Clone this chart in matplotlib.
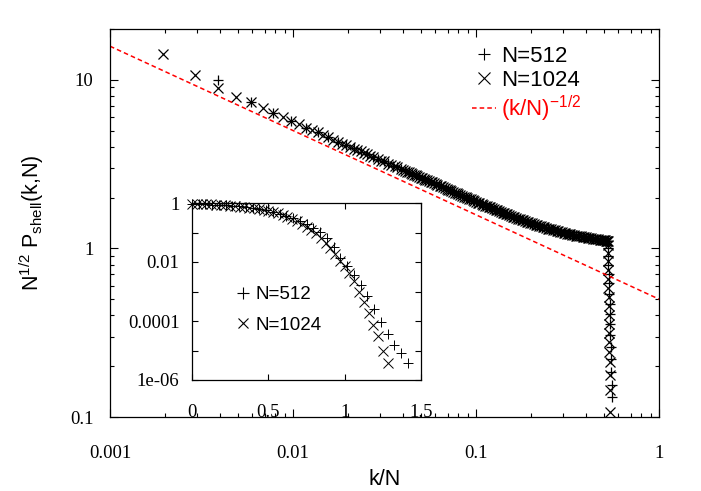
import numpy as np
import matplotlib
matplotlib.use("Agg")
import matplotlib.pyplot as plt
from matplotlib.lines import Line2D
from matplotlib.ticker import FixedLocator, FixedFormatter, NullFormatter, LogLocator

plt.rcParams['font.family'] = ['Liberation Sans', 'DejaVu Sans']
plt.rcParams['mathtext.default'] = 'regular'

# ---------------- data (main panel) ----------------
N_512 = 512
N_1024 = 1024

k_1024 = [2, 3, 4, 5, 6, 7, 8, 9, 10, 11, 12, 13, 14, 15, 16, 17, 18, 19, 20,
          21, 22, 23, 24, 25, 26, 27, 28, 30, 31, 32, 34, 35, 37, 38,
          40, 41, 42, 43, 44, 45, 46, 47, 48, 49, 50, 51, 52, 53, 54, 55,
          57, 58, 59, 60, 62, 63, 65, 66, 68, 69,
          71, 72, 74, 75, 77, 79, 81, 82, 84, 86,
          88, 90, 92, 94, 96, 98, 100, 102, 105, 107,
          110, 112, 115, 117, 120, 122, 125, 128, 131, 134,
          137, 140, 143, 146, 149, 152, 156, 159, 163, 166,
          170, 174, 178, 182, 186, 190, 194, 198, 203, 207,
          212, 217, 222, 227, 232, 237, 242, 247, 253, 258,
          264, 270, 276, 282, 288, 294, 301, 308, 315, 322,
          329, 336, 343, 351, 359, 367, 375, 383, 392, 400,
          409, 418, 427, 436, 446, 456, 466, 476, 487, 496,
          505, 512, 520, 525, 530, 533, 536,
          537, 538, 539, 540, 541, 542, 543, 544, 545, 546, 547, 548, 549, 550, 551, 552, 553]
y_1024 = [14.3, 10.7, 8.97, 7.9, 7.35, 6.8, 6.34, 6.0, 5.71, 5.45, 5.21, 5.04, 4.89, 4.69, 4.55, 4.42, 4.30, 4.18, 4.08,
          4.00, 3.91, 3.82, 3.76, 3.68, 3.61, 3.54, 3.48, 3.37, 3.32, 3.28, 3.18, 3.14, 3.06, 3.02,
          2.95, 2.92, 2.88, 2.85, 2.82, 2.79, 2.76, 2.73, 2.71, 2.68, 2.66, 2.63, 2.61, 2.58, 2.56, 2.54,
          2.50, 2.48, 2.46, 2.44, 2.40, 2.38, 2.35, 2.33, 2.30, 2.28,
          2.25, 2.23, 2.21, 2.19, 2.17, 2.14, 2.12, 2.10, 2.08, 2.05,
          2.03, 2.01, 1.99, 1.97, 1.95, 1.93, 1.91, 1.89, 1.87, 1.85,
          1.83, 1.81, 1.79, 1.78, 1.76, 1.75, 1.73, 1.71, 1.70, 1.68,
          1.66, 1.65, 1.63, 1.62, 1.61, 1.59, 1.57, 1.56, 1.54, 1.53,
          1.52, 1.50, 1.49, 1.48, 1.47, 1.455, 1.44, 1.43, 1.41, 1.405,
          1.40, 1.385, 1.37, 1.36, 1.35, 1.345, 1.34, 1.325, 1.31, 1.305,
          1.30, 1.29, 1.28, 1.27, 1.26, 1.25, 1.245, 1.24, 1.23, 1.225,
          1.217, 1.21, 1.205, 1.197, 1.19, 1.187, 1.185, 1.18, 1.176, 1.17,
          1.163, 1.158, 1.153, 1.147, 1.14, 1.137, 1.134, 1.131, 1.128, 1.124,
          1.12, 1.118, 1.115, 1.112, 1.11, 1.105, 1.10,
          1.05, 0.94, 0.84, 0.745, 0.66, 0.58, 0.515, 0.456, 0.403, 0.357, 0.316, 0.28, 0.243, 0.213, 0.178, 0.145, 0.107]

k_512 = [2, 3, 4, 5, 6, 7, 8, 9, 10, 11, 12, 13, 14, 15, 16, 17, 18, 19,
         20, 21, 22, 23, 24, 25, 26, 27, 28, 29,
         30, 31, 32, 33, 34, 35, 36, 37, 38, 39,
         40, 41, 42, 43, 44, 45, 46, 47, 48, 49,
         50, 51, 52, 53, 54, 55, 56, 57, 58, 59,
         60, 61, 62, 63, 64, 65, 66, 67, 68, 69,
         70, 71, 72, 73, 74, 75, 76, 78, 80, 82,
         83, 85, 87, 89, 91, 93, 95, 97, 99, 101,
         104, 106, 108, 110, 113, 115, 118, 121, 124, 126,
         129, 132, 135, 138, 141, 144, 147, 150, 154, 157,
         161, 164, 168, 172, 176, 180, 184, 188, 192, 196,
         200, 205, 210, 214, 219, 224, 229, 234, 239, 244,
         250, 254, 258, 260, 262, 264, 265, 266, 267, 268,
         269, 270, 271, 272, 273, 274, 275, 276, 277, 278, 279, 280, 281, 282, 283]
y_512 = [10.0, 7.4, 6.34, 5.71, 5.21, 4.89, 4.55, 4.30, 4.10, 3.92, 3.75, 3.61, 3.49, 3.38, 3.28, 3.19, 3.10, 3.03,
         2.95, 2.89, 2.82, 2.76, 2.71, 2.66, 2.61, 2.56, 2.52, 2.48,
         2.44, 2.40, 2.36, 2.33, 2.30, 2.27, 2.24, 2.21, 2.18, 2.16,
         2.13, 2.10, 2.08, 2.06, 2.03, 2.01, 1.99, 1.97, 1.95, 1.93,
         1.915, 1.90, 1.88, 1.865, 1.85, 1.835, 1.82, 1.80, 1.785, 1.77,
         1.76, 1.75, 1.735, 1.72, 1.71, 1.70, 1.69, 1.68, 1.67, 1.66,
         1.65, 1.64, 1.63, 1.62, 1.61, 1.60, 1.59, 1.57, 1.555, 1.54,
         1.53, 1.515, 1.50, 1.49, 1.48, 1.465, 1.45, 1.44, 1.43, 1.415,
         1.40, 1.39, 1.38, 1.37, 1.36, 1.35, 1.34, 1.33, 1.32, 1.313,
         1.305, 1.295, 1.285, 1.276, 1.267, 1.26, 1.255, 1.248, 1.24, 1.233,
         1.225, 1.22, 1.213, 1.205, 1.198, 1.193, 1.188, 1.181, 1.175, 1.172,
         1.168, 1.162, 1.155, 1.15, 1.146, 1.141, 1.136, 1.131, 1.127, 1.122,
         1.116, 1.114, 1.112, 1.111, 1.11, 1.107, 1.105, 1.103, 1.101, 1.10,
         1.0, 0.90, 0.80, 0.70, 0.62, 0.54, 0.47, 0.41, 0.355, 0.305, 0.26, 0.22, 0.185, 0.155, 0.131]

line_x = [0.001, 1.0]
line_amp = 0.5

# ---------------- data (inset) ----------------
inset_y_1024 = [0.933, 0.923, 0.912, 0.902, 0.891, 0.871, 0.851, 0.832, 0.813, 0.794, 0.759, 0.724, 0.692, 0.661,
                0.617, 0.575, 0.537, 0.490, 0.447, 0.398, 0.347, 0.295, 0.245, 0.200, 0.158, 0.126, 0.0955, 0.0631,
                0.0447, 0.0302, 0.0191, 0.0112, 0.00708, 0.00417, 0.00224, 0.001, 4.47e-4, 1.91e-4, 7.59e-5,
                3.02e-5, 9.55e-6, 3.80e-6]
inset_y_512 = [0.933, 0.923, 0.902, 0.881, 0.861, 0.832, 0.804, 0.767, 0.724, 0.676, 0.617, 0.562, 0.501, 0.437,
               0.372, 0.309, 0.251, 0.195, 0.145, 0.102, 0.0631, 0.0316, 0.0141, 0.00759, 0.00363, 0.00166,
               7.08e-4, 2.51e-4, 8.91e-5, 3.63e-5, 1.58e-5, 8.32e-6, 3.63e-6]
inset_x_1024 = np.arange(len(inset_y_1024)) / np.sqrt(1024)
inset_x_512 = np.arange(len(inset_y_512)) / np.sqrt(512)

main_xticks = [0.001, 0.01, 0.1, 1]
main_xticklabels = ['0.001', '0.01', '0.1', '1']
main_yticks = [0.1, 1, 10]
main_yticklabels = ['0.1', '1', '10']
inset_xticks = [0, 0.5, 1, 1.5]
inset_xticklabels = ['0', '0.5', '1', '1.5']
inset_yticks = [1e-6, 1e-5, 1e-4, 1e-3, 1e-2, 1e-1, 1]
inset_yticklabels = ['1e-06', '', '0.0001', '', '0.01', '', '1']

assert len(k_1024) == len(y_1024) and len(k_512) == len(y_512)

# ---------------- figure ----------------
W, H = 701, 491
fig = plt.figure(figsize=(W / 100, H / 100), dpi=100)
ax = fig.add_axes([110 / W, 1 - 417 / H, 549 / W, 388 / H])

mk = dict(color='black', linestyle='none', markersize=7.2, markeredgewidth=0.9, clip_on=False)
ax.plot(np.array(k_512) / N_512, y_512, marker='+', **mk)
ax.plot(np.array(k_1024) / N_1024, y_1024, marker='x', **mk)
lx = np.array(line_x)
ax.plot(lx, line_amp * lx ** -0.5, color='#ff0000', lw=1.1, dashes=(3, 2))

ax.set_xscale('log')
ax.set_yscale('log')
ax.set_xlim(0.001, 1)
ax.set_ylim(0.1, 20)
ax.xaxis.set_major_locator(FixedLocator(main_xticks))
ax.xaxis.set_major_formatter(FixedFormatter(main_xticklabels))
ax.yaxis.set_major_locator(FixedLocator(main_yticks))
ax.yaxis.set_major_formatter(FixedFormatter(main_yticklabels))
ax.xaxis.set_minor_locator(LogLocator(base=10, subs=np.arange(2, 10)))
ax.yaxis.set_minor_locator(LogLocator(base=10, subs=np.arange(2, 10)))
ax.xaxis.set_minor_formatter(NullFormatter())
ax.yaxis.set_minor_formatter(NullFormatter())
ax.tick_params(which='both', direction='in', top=True, right=True, width=0.8, labelfontfamily='Liberation Serif',
               labelsize=13.5)
ax.tick_params(which='major', length=5.5)
ax.tick_params(which='minor', length=3)
ax.tick_params(axis='x', pad=20)
ax.tick_params(axis='y', pad=12)
for s in ax.spines.values():
    s.set_linewidth(0.9)

ax.set_xlabel('k/N', fontsize=15.5, labelpad=5)
ax.set_ylabel('N$^{1/2}$ P$_{shell}$(k,N)', fontsize=15.5, labelpad=17)

handles = [Line2D([], [], marker='+', color='black', linestyle='none', markersize=9, markeredgewidth=0.8),
           Line2D([], [], marker='x', color='black', linestyle='none', markersize=8, markeredgewidth=0.8),
           Line2D([], [], color='#ff0000', lw=1.1, dashes=(3, 2))]
leg = ax.legend(handles, ['N=512', 'N=1024', '(k/N)$^{-1/2}$'], loc='upper left',
                bbox_to_anchor=((472 - 110) / 549, (417 - 46) / 388), frameon=False, fontsize=16,
                handlelength=1.1, handletextpad=0.2, labelspacing=0.12, borderpad=0, borderaxespad=0)
leg.get_texts()[2].set_color('#ff0000')

# ---------------- inset ----------------
ai = fig.add_axes([192 / W, 1 - 380 / H, 229 / W, 177 / H])
mki = dict(color='black', linestyle='none', markersize=7.2, markeredgewidth=0.7, clip_on=False)
ai.plot(inset_x_512, inset_y_512, marker='+', **mki)
ai.plot(inset_x_1024, inset_y_1024, marker='x', **mki)
ai.set_yscale('log')
ai.set_xlim(0, 1.5)
ai.set_ylim(1e-6, 1)
ai.xaxis.set_major_locator(FixedLocator(inset_xticks))
ai.xaxis.set_major_formatter(FixedFormatter(inset_xticklabels))
ai.yaxis.set_major_locator(FixedLocator(inset_yticks))
ai.yaxis.set_major_formatter(FixedFormatter(inset_yticklabels))
ai.yaxis.set_minor_locator(FixedLocator([]))
ai.tick_params(which='both', direction='in', top=True, right=True, width=0.8, length=4,
               labelfontfamily='Liberation Serif', labelsize=13.5)
ai.tick_params(axis='x', pad=17)
ai.tick_params(axis='y', pad=9)
for s in ai.spines.values():
    s.set_linewidth(0.9)
ih = [Line2D([], [], marker='+', color='black', linestyle='none', markersize=8, markeredgewidth=0.8),
      Line2D([], [], marker='x', color='black', linestyle='none', markersize=7, markeredgewidth=0.8)]
ai.legend(ih, ['N=512', 'N=1024'], loc='upper left', bbox_to_anchor=((236 - 192) / 229, (380 - 286) / 177),
          frameon=False, fontsize=13.5, handlelength=0.7, handletextpad=0.35, labelspacing=0.72,
          borderpad=0, borderaxespad=0)

fig.savefig('out.png', dpi=100)
